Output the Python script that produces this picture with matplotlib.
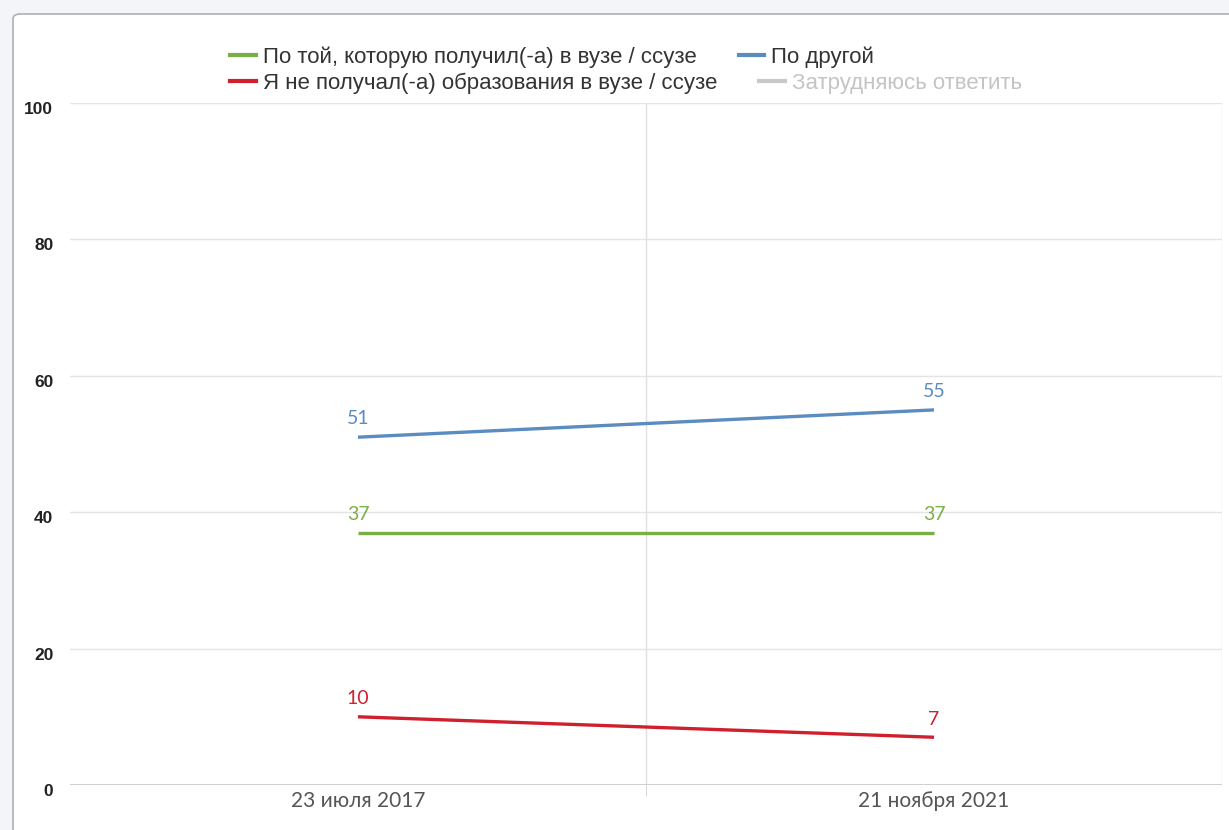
import matplotlib.pyplot as plt
from matplotlib.lines import Line2D
from matplotlib.patches import FancyBboxPatch
from matplotlib import transforms
import numpy as np

# Data
# ====
dates = ["23 июля 2017", "21 ноября 2021"]
series_names = [
    "По той, которую получил(-а) в вузе / ссузе",
    "По другой",
    "Я не получал(-а) образования в вузе / ссузе",
    "Затрудняюсь ответить",
]
same_field = [37, 37]
other_field = [51, 55]
no_degree = [10, 7]
y_ticks = [0, 20, 40, 60, 80, 100]

green = "#79b044"
blue = "#5b8cc0"
red = "#d0202e"
grey = "#c8c8c8"

fig = plt.figure(figsize=(12.29, 8.30), dpi=100)
fig.patch.set_facecolor("#f4f5f8")

# white panel with a rounded border
W, H = 1229.0, 830.0
panel = FancyBboxPatch((13 / W, -0.05), 1.1, (830 - 14) / H + 0.05,
                       boxstyle="round,pad=0,rounding_size=0.006",
                       transform=fig.transFigure, facecolor="white",
                       edgecolor="#b0b0b4", linewidth=1.2, zorder=-10)
fig.patches.append(panel)

ax = fig.add_axes([70 / W, 1 - 785 / H, (1222 - 70) / W, (785 - 103) / H])
ax.set_facecolor("none")

x = np.arange(len(dates))
lines_data = [(same_field, green), (other_field, blue), (no_degree, red)]
for vals, col in lines_data:
    ax.plot(x, vals, color=col, lw=2.4, solid_capstyle="butt", zorder=3)
    for xi, v in zip(x, vals):
        ax.annotate(str(v), (xi, v), xytext=(0, 7), textcoords="offset points",
                    ha="center", va="bottom", color=col, fontsize=14,
                    family="Lato", zorder=4)

ax.set_xlim(-0.5, 1.5)
ax.set_ylim(0, 100)
ax.set_yticks(y_ticks)
ax.set_yticklabels([str(t) for t in y_ticks], family="Liberation Sans",
                   fontsize=12.5, color="#222222", fontweight="bold")
ax.set_xticks(x)
ax.set_xticklabels(dates, family="Lato", fontsize=15, color="#555555")
ax.tick_params(axis="x", length=0, pad=4)
ax.tick_params(axis="y", length=0, pad=12)
shift = transforms.ScaledTranslation(0, -5 / 100, fig.dpi_scale_trans)
for lbl in ax.get_yticklabels():
    lbl.set_transform(lbl.get_transform() + shift)

# grid
for t in y_ticks:
    ax.axhline(t, color="#e4e4e4", lw=1, zorder=1)
for xv in [0.5, 1.5]:
    ax.axvline(xv, color="#e0e0e0", lw=1, zorder=1)
ax.axhline(0, color="#c8c8c8", lw=1.2, zorder=2)
ax.set_xticks([0.5], minor=True)
ax.tick_params(axis="x", which="minor", length=8, color="#d0d0d0")
for s in ax.spines.values():
    s.set_visible(False)

# legend rows
fs = 16
row1 = [Line2D([], [], color=green, lw=3), Line2D([], [], color=blue, lw=3)]
row2 = [Line2D([], [], color=red, lw=3), Line2D([], [], color=grey, lw=3)]
kw = dict(ncol=2, frameon=False, handlelength=1.15, handletextpad=0.32,
          columnspacing=1.9, borderaxespad=0, borderpad=0,
          prop={"family": "Liberation Sans", "size": fs})
leg1 = fig.legend(row1, series_names[:2], loc="center left",
                  bbox_to_anchor=(230 / W, 1 - 57 / H), **kw)
for t in leg1.get_texts():
    t.set_color("#333333")
leg2 = fig.legend(row2, series_names[2:], loc="center left",
                  bbox_to_anchor=(230 / W, 1 - 83 / H), **kw)
leg2.get_texts()[0].set_color("#333333")
leg2.get_texts()[1].set_color("#c4c4c4")

fig.savefig("out.png", dpi=100, facecolor=fig.get_facecolor())
